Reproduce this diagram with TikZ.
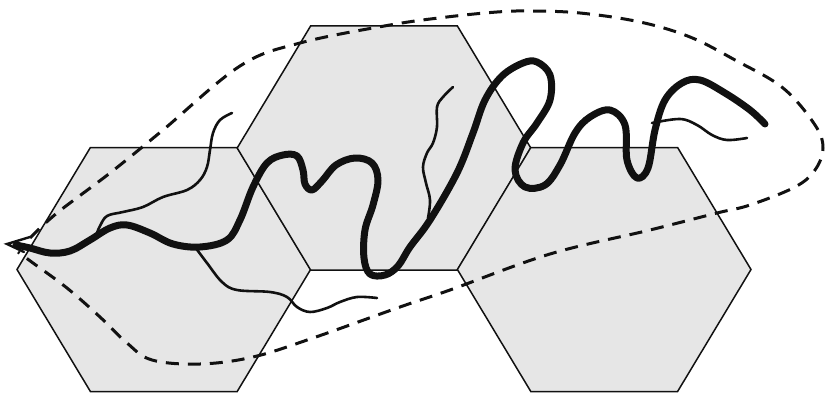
\documentclass[tikz,border=0pt]{standalone}
\usetikzlibrary{calc}
\definecolor{hexfill}{HTML}{E6E6E6}
\definecolor{ink}{HTML}{111111}
\tikzset{
  hexcell/.style={fill=hexfill, draw=ink, line width=1.5pt, line join=miter},
  envelope/.style={draw=ink, line width=3pt, dash pattern=on 13pt off 9pt},
  thickchain/.style={draw=ink, line width=7pt, line cap=round, line join=round},
  thinchain/.style={draw=ink, line width=2.6pt, line cap=round, line join=round},
  tipmark/.style={draw=ink, line width=2.4pt, line cap=round, line join=miter}
}
\begin{document}
\begin{tikzpicture}[x=1pt,y=-1pt]
\useasboundingbox (0,0) rectangle (825,396);
% hexagonal cells
\foreach \cx/\cy in {163.8/269.5, 384/148, 604.2/269.5}{
  \draw[hexcell] (\cx-146.8,\cy) -- ++(73.4,-122) -- ++(146.8,0) -- ++(73.4,122)
     -- ++(-73.4,122) -- ++(-146.8,0) -- cycle;
}
% dashed envelope
\draw[envelope] plot[smooth, tension=0.6] coordinates {
 (30,238) (57,213) (110,173) (163,130) (240,66) (300,43) (390,25) (447,17)
 (497,12) (530,11) (580,13) (640,22) (690,37) (735,60) (783,88) (815,125)
 (823,148) (815,170) (795,187) (750,205) (717,213) (650,230) (550,254)
 (450,290) (400,307) (313,338) (253,357) (200,364) (152,360) (127,343)
 (100,317) (67,288) (33,263) (18,252)};
% thin chains
\draw[thinchain] plot[smooth, tension=0.6] coordinates {
 (232,113) (220,120) (213,133) (210,150) (207,167) (200,180) (187,190)
 (163,197) (143,207) (123,212) (107,216) (100,226) (97,233)};
\draw[thinchain] plot[smooth, tension=0.6] coordinates {
 (195,247) (207,263) (222,282) (237,290) (270,292) (287,297) (297,307)
 (310,312) (327,308) (340,302) (357,297) (377,298)};
\draw[thinchain] plot[smooth, tension=0.6] coordinates {
 (428,218) (430,200) (426,183) (423,167) (427,153) (433,143) (437,127)
 (437,107) (443,97) (453,87)};
\draw[thinchain] plot[smooth, tension=0.6] coordinates {
 (652,123) (680,119) (697,125) (712,135) (727,140) (747,138)};
% thick chain
\draw[thickchain] plot[smooth, tension=0.6] coordinates {
 (16,245) (30,248) (50,253) (70,251) (90,240) (110,228) (127,225) (150,233)
 (173,244) (200,247) (227,240) (240,220) (253,187) (267,163) (283,155)
 (297,156) (303,170) (305,184) (312,190) (322,181) (336,165) (355,158)
 (372,163) (378,180) (373,205) (365,230) (364,258) (370,274) (385,275)
 (398,266) (410,247) (430,220) (457,173) (473,133) (485,100) (502,76)
 (523,63) (537,62) (550,75) (550,100) (537,123) (523,143) (515,170)
 (525,187) (545,185) (560,165) (575,133) (590,117) (610,110) (625,125)
 (627,160) (637,178) (648,168) (655,130) (665,100) (682,83) (700,80)
 (725,93) (750,110) (765,124)};
% arrow tip at the left end
\draw[tipmark] (30,237) -- (7,244) -- (24,252);
\end{tikzpicture}
\end{document}
